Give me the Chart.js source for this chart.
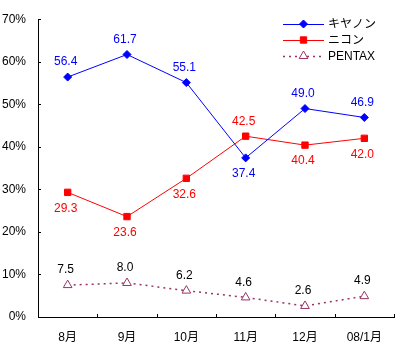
<!DOCTYPE html>
<html>
<head>
<meta charset="utf-8">
<script src="https://cdn.jsdelivr.net/npm/chart.js@4"></script>
<style>
  html, body { margin: 0; padding: 0; background: #fff; }
  #wrap { width: 400px; height: 351px; }
</style>
</head>
<body>
<div id="wrap"><canvas id="shareChart"></canvas></div>
<script>
const months = ['8月', '9月', '10月', '11月', '12月', '08/1月'];
const canon = [56.4, 61.7, 55.1, 37.4, 49.0, 46.9];
const nikon = [29.3, 23.6, 32.6, 42.5, 40.4, 42.0];
const pentax = [7.5, 8.0, 6.2, 4.6, 2.6, 4.9];
const yTicks = [0, 10, 20, 30, 40, 50, 60, 70];

const FONT = "'Liberation Sans', 'Noto Sans CJK JP', sans-serif";

// where each value label sits relative to its point
const labelSide = {
    0: ['up', 'up', 'up', 'down', 'up', 'up'],
    1: ['down', 'down', 'down', 'up', 'down', 'down'],
    2: ['up', 'up', 'up', 'up', 'up', 'up']
};
const labelColor = ['#0000FF', '#FF0000', '#000000'];

// value labels next to points
const valueLabels = {
    id: 'valueLabels',
    afterDatasetsDraw(chart) {
        const ctx = chart.ctx;
        ctx.save();
        ctx.font = '12px ' + FONT;
        ctx.textAlign = 'center';
        ctx.textBaseline = 'middle';
        chart.data.datasets.forEach((ds, di) => {
            const meta = chart.getDatasetMeta(di);
            meta.data.forEach((pt, i) => {
                const dy = labelSide[di][i] === 'up' ? -15 : 16;
                ctx.fillStyle = labelColor[di];
                ctx.fillText(ds.data[i].toFixed(1), pt.x - 2, pt.y + dy);
            });
        });
        ctx.restore();
    }
};

// inward tick marks on both axes
const innerTicks = {
    id: 'innerTicks',
    afterDraw(chart) {
        const ctx = chart.ctx;
        const x = chart.scales.x, y = chart.scales.y;
        ctx.save();
        ctx.strokeStyle = '#000';
        ctx.lineWidth = 1;
        ctx.beginPath();
        y.ticks.forEach(t => {
            const py = Math.round(y.getPixelForValue(t.value)) + 0.5;
            ctx.moveTo(x.left, py);
            ctx.lineTo(x.left + 3, py);
        });
        const n = months.length;
        const step = (x.right - x.left) / n;
        for (let i = 1; i <= n; i++) {
            const px = Math.round(x.left + i * step) + 0.5;
            ctx.moveTo(px, y.bottom);
            ctx.lineTo(px, y.bottom - 3);
        }
        ctx.stroke();
        ctx.restore();
    }
};

// legend with line + marker samples, top right inside the plot
const lineLegend = {
    id: 'lineLegend',
    afterDraw(chart) {
        const ctx = chart.ctx;
        const x0 = 283, x1 = 324, textX = 328;
        ctx.save();
        ctx.font = '12px ' + FONT;
        ctx.textBaseline = 'middle';
        ctx.textAlign = 'left';
        chart.data.datasets.forEach((ds, i) => {
            const yy = 24 + i * 16;
            ctx.strokeStyle = ds.borderColor;
            ctx.lineWidth = ds.borderWidth;
            ctx.setLineDash(ds.borderDash || []);
            ctx.beginPath();
            ctx.moveTo(x0, yy + 0.5);
            ctx.lineTo(x1, yy + 0.5);
            ctx.stroke();
            ctx.setLineDash([]);
            ctx.fillStyle = ds.pointBackgroundColor;
            ctx.strokeStyle = ds.pointBorderColor;
            ctx.lineWidth = ds.pointBorderWidth || 1;
            Chart.helpers.drawPoint(ctx, {
                pointStyle: ds.pointStyle,
                radius: ds.pointRadius,
                borderWidth: ds.pointBorderWidth || 1
            }, (x0 + x1) / 2, yy);
            ctx.fillStyle = '#000';
            ctx.fillText(ds.label, textX, yy + 1);
        });
        ctx.restore();
    }
};

document.addEventListener('DOMContentLoaded', function() {
    const ctx = document.getElementById('shareChart').getContext('2d');
    new Chart(ctx, {
        type: 'line',
        data: {
            labels: months,
            datasets: [{
                label: 'キヤノン',
                data: canon,
                borderColor: '#0000FF',
                borderWidth: 1,
                pointStyle: 'rectRot',
                pointRadius: 4,
                pointBackgroundColor: '#0000FF',
                pointBorderColor: '#0000FF',
                pointBorderWidth: 1
            }, {
                label: 'ニコン',
                data: nikon,
                borderColor: '#FF0000',
                borderWidth: 1,
                pointStyle: 'rect',
                pointRadius: 4.5,
                pointBackgroundColor: '#FF0000',
                pointBorderColor: '#FF0000',
                pointBorderWidth: 1
            }, {
                label: 'PENTAX',
                data: pentax,
                borderColor: '#993366',
                borderWidth: 1.5,
                borderDash: [2, 4],
                pointStyle: 'triangle',
                pointRadius: 5,
                pointBackgroundColor: '#FFFFFF',
                pointBorderColor: '#993366',
                pointBorderWidth: 1
            }]
        },
        options: {
            responsive: true,
            maintainAspectRatio: false,
            animation: false,
            layout: { padding: { top: 15, right: 6, left: 0, bottom: 0 } },
            plugins: {
                legend: { display: false },
                tooltip: { enabled: false }
            },
            scales: {
                x: {
                    offset: true,
                    grid: { display: false, drawTicks: false },
                    border: { display: true, color: '#000', width: 1 },
                    ticks: {
                        color: '#000',
                        padding: 13,
                        font: { size: 12, family: FONT }
                    },
                    afterFit(scale) { scale.height = 34; }
                },
                y: {
                    min: 0,
                    max: 70,
                    grid: { display: false, drawTicks: false },
                    border: { display: true, color: '#000', width: 1 },
                    afterBuildTicks(scale) {
                        scale.ticks = yTicks.map(v => ({ value: v }));
                    },
                    ticks: {
                        color: '#000',
                        padding: 12,
                        font: { size: 12, family: FONT },
                        callback: v => v + '%'
                    },
                    afterFit(scale) { scale.width = 38; }
                }
            }
        },
        plugins: [valueLabels, innerTicks, lineLegend]
    });
});
</script>
</body>
</html>
